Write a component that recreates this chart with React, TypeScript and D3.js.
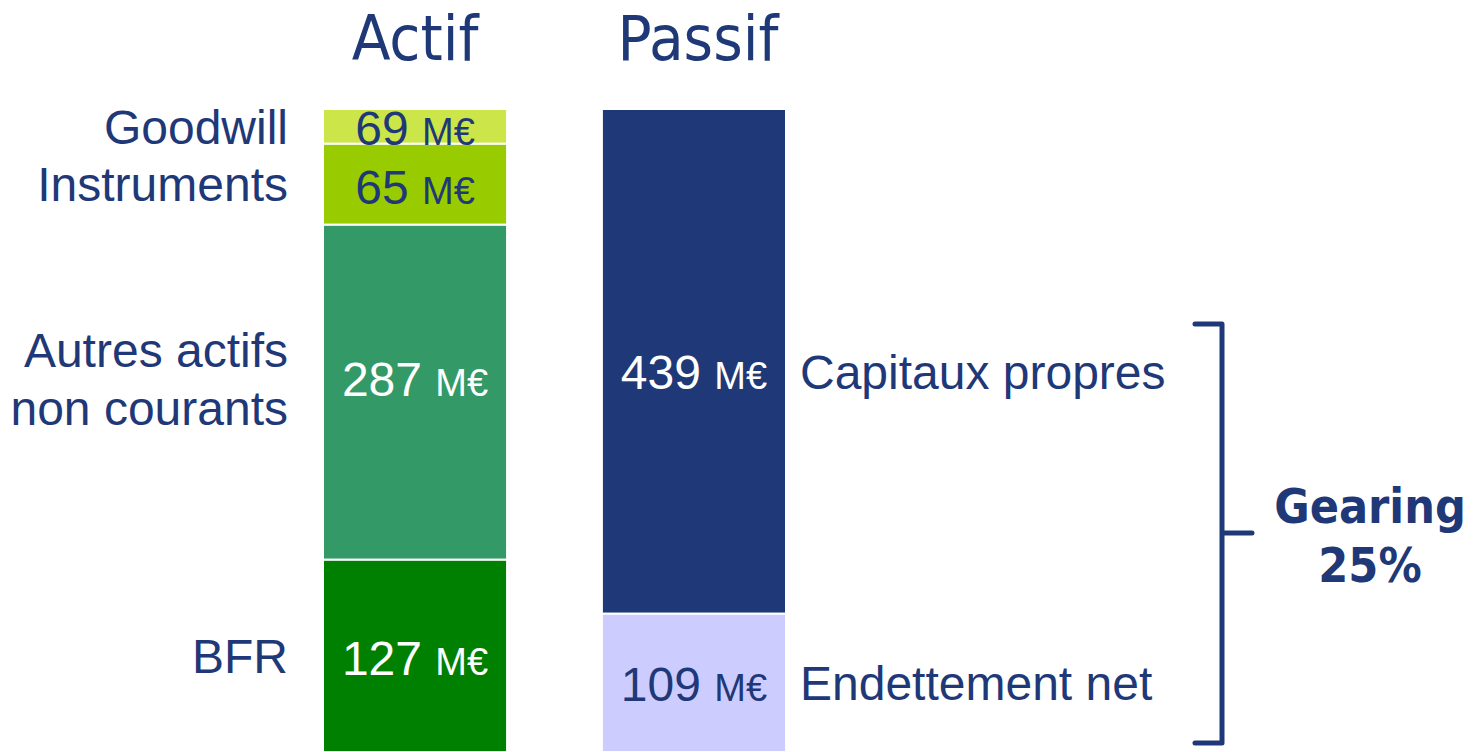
import React, { useEffect, useRef } from "react";
import * as d3 from "d3";

// Actif side, bottom to top
const actifLabels = ["BFR", "Autres actifs\nnon courants", "Instruments", "Goodwill"];
const actifValues = [127, 287, 65, 69];
// segment heights as drawn in the source slide (M€, not to scale with the labels)
const actifDrawn = [164, 285.5, 69, 29.5];
const actifColors = ["#008000", "#339966", "#99cc00", "#cce64a"];
const actifText = ["#ffffff", "#ffffff", "#1f3877", "#1f3877"];

// Passif side, bottom to top
const passifLabels = ["Endettement net", "Capitaux propres"];
const passifValues = [109, 439];
const passifDrawn = [118, 430];
const passifColors = ["#ccccff", "#1f3877"];
const passifText = ["#1f3877", "#ffffff"];

const columns = ["Actif", "Passif"];
const gearing = ["Gearing", "25%"];

const NAVY = "#1f3877";
const SANS = "'Liberation Sans', Arial, sans-serif";
const W = 1481;
const H = 752;

const App: React.FC = () => {
  const ref = useRef<SVGSVGElement | null>(null);

  useEffect(() => {
    document.body.style.margin = "0";
    const svg = d3.select(ref.current);
    svg.selectAll("*").remove();

    const total = d3.sum(actifDrawn);
    const y = d3.scaleLinear().domain([0, total]).range([H, 109]);
    const x = d3.scaleBand().domain(columns).range([323, 786]).paddingInner(0.34);
    const bw = x.bandwidth();

    const stack = (sizes: number[]) => {
      let acc = 0;
      return sizes.map((s) => {
        const seg = { y0: acc, y1: acc + s };
        acc += s;
        return seg;
      });
    };

    // column titles
    svg
      .append("g")
      .selectAll("text")
      .data(columns)
      .join("text")
      .attr("x", (d) => x(d)! + bw / 2 + (d === "Passif" ? 4 : 0))
      .attr("y", 60)
      .attr("text-anchor", "middle")
      .style("font-family", "'DejaVu Sans Condensed', 'DejaVu Sans'")
      .style("font-stretch", "condensed")
      .style("font-size", "63px")
      .attr("fill", NAVY)
      .text((d) => d);

    const drawColumn = (
      col: string,
      sizes: number[],
      values: number[],
      colors: string[],
      textColors: string[],
      shift: number[]
    ) => {
      const segs = stack(sizes);
      const g = svg.append("g");
      g.selectAll("rect")
        .data(segs)
        .join("rect")
        .attr("x", x(col)!)
        .attr("width", bw)
        .attr("y", (d) => y(d.y1))
        .attr("height", (d) => y(d.y0) - y(d.y1))
        .attr("fill", (_, i) => colors[i])
        .attr("stroke", "#fff")
        .attr("stroke-width", 2);

      const t = g
        .selectAll("text")
        .data(segs)
        .join("text")
        .attr("x", x(col)! + bw / 2)
        .attr("y", (d, i) => y((d.y0 + d.y1) / 2) + shift[i])
        .attr("dy", "0.36em")
        .attr("text-anchor", "middle")
        .style("font-family", SANS)
        .style("font-size", "48px")
        .attr("fill", (_, i) => textColors[i]);
      t.append("tspan").text((_, i) => `${values[i]} `);
      t.append("tspan").style("font-size", "38px").text("M€");
      return segs;
    };

    const aSegs = drawColumn("Actif", actifDrawn, actifValues, actifColors, actifText, [2, -13, 3, 1]);
    const pSegs = drawColumn("Passif", passifDrawn, passifValues, passifColors, passifText, [1, 10]);

    // left labels
    const left = svg
      .append("g")
      .selectAll("text")
      .data(aSegs)
      .join("text")
      .attr("text-anchor", "end")
      .style("font-family", SANS)
      .style("font-size", "48px")
      .attr("fill", NAVY);
    left.each(function (d, i) {
      const lines = actifLabels[i].split("\n");
      const cy = y((d.y0 + d.y1) / 2);
      const lh = 58;
      d3.select(this)
        .selectAll("tspan")
        .data(lines)
        .join("tspan")
        .attr("x", 288)
        .attr("y", (_, k) => cy + (k - (lines.length - 1) / 2) * lh - (lines.length > 1 ? 13 : 0))
        .attr("dy", "0.36em")
        .text((l) => l);
    });

    // right labels
    svg
      .append("g")
      .selectAll("text")
      .data(pSegs)
      .join("text")
      .attr("x", 800)
      .attr("y", (d) => y((d.y0 + d.y1) / 2) + (d.y0 > 0 ? 10 : 0))
      .attr("dy", "0.36em")
      .style("font-family", SANS)
      .style("font-size", "48px")
      .attr("fill", NAVY)
      .text((_, i) => passifLabels[i]);

    // gearing bracket
    const bx = 1222;
    const top = 324;
    const bot = 743;
    const mid = 533;
    svg
      .append("path")
      .attr("d", `M${bx - 27},${top}H${bx}V${bot}H${bx - 27}M${bx},${mid}H${bx + 30}`)
      .attr("fill", "none")
      .attr("stroke", NAVY)
      .attr("stroke-width", 5)
      .attr("stroke-linecap", "round")
      .attr("stroke-linejoin", "round");

    svg
      .append("g")
      .selectAll("text")
      .data(gearing)
      .join("text")
      .attr("x", 1370)
      .attr("y", (_, i) => 523 + i * 59)
      .attr("text-anchor", "middle")
      .style("font-family", "'DejaVu Sans Condensed', 'DejaVu Sans'")
      .style("font-stretch", "condensed")
      .style("font-weight", "bold")
      .style("font-size", "48px")
      .attr("fill", NAVY)
      .text((d) => d);
  }, []);

  return (
    <svg
      ref={ref}
      width={W}
      height={H}
      style={{ display: "block", background: "#fff" }}
    />
  );
};

export default App;
